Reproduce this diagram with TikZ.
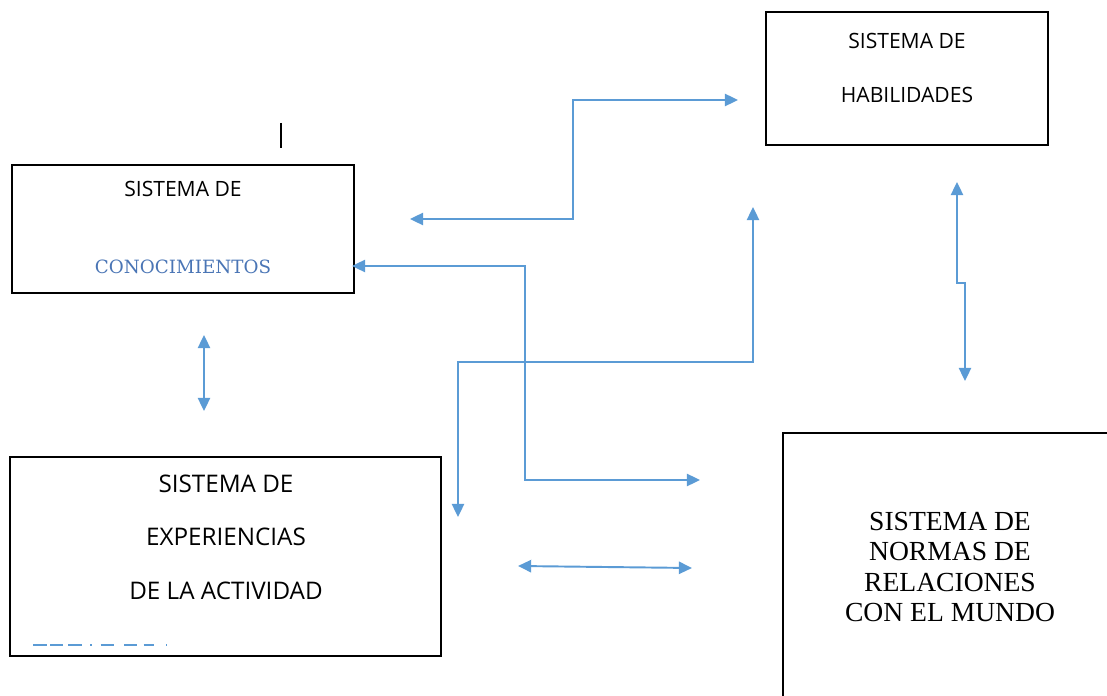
\documentclass[tikz,border=0pt]{standalone}
\usepackage{fontspec}
\setmainfont{Liberation Serif}
\setsansfont{Open Sans}
\newfontfamily\slabfont{DejaVu Serif}
\usetikzlibrary{arrows.meta}
\definecolor{relblue}{HTML}{5B9BD5}
\definecolor{txtblue}{HTML}{4A75B5}
\tikzset{
  box/.style={draw,line width=0.8pt,inner sep=0pt},
  rel/.style={line width=1.1pt,color=relblue,{Triangle[length=7.5pt,width=7pt]}-{Triangle[length=7.5pt,width=7pt]}},
  lbl/.style={font=\sffamily\fontsize{12}{14}\selectfont,inner sep=0pt}
}
\begin{document}
\begin{tikzpicture}[x=0.02cm,y=-0.02cm]
\useasboundingbox (0,0) rectangle (1107,696);

\node[box,minimum width=6.84cm,minimum height=2.56cm] (cono) at (183,229) {}; % conocimientos
\node[box,minimum width=5.64cm,minimum height=2.66cm] (habi) at (907,78.5) {}; % habilidades
\node[box,minimum width=8.62cm,minimum height=3.98cm] (expe) at (225.5,556.5) {}; % experiencias
\draw[line width=0.8pt] (1107,433) -- (783,433) -- (783,696) ; % normas

\node[lbl] (cono1) at (183,189) {SISTEMA DE};
\node[lbl,font=\slabfont\fontsize{10.4}{12}\selectfont,text=txtblue] (cono2) at (183,267) {CONOCIMIENTOS};
\node[lbl] (habi1) at (907,41) {SISTEMA DE};
\node[lbl] (habi2) at (907,95) {HABILIDADES};
\node[lbl,font=\sffamily\fontsize{13.8}{16}\selectfont] (expe1) at (226,484) {SISTEMA DE};
\node[lbl,font=\sffamily\fontsize{13.8}{16}\selectfont] (expe2) at (226,537) {EXPERIENCIAS};
\node[lbl,font=\sffamily\fontsize{13.8}{16}\selectfont] (expe3) at (226,591) {DE LA ACTIVIDAD};
\node[align=center,font=\fontsize{15.7}{17.4}\selectfont,inner sep=0pt] (norm) at (950,567)
  {SISTEMA DE\\NORMAS DE\\RELACIONES\\CON EL MUNDO};

\draw[line width=0.8pt,color=relblue,dash pattern=on 7.8pt off 1.9pt on 7.6pt off 2.9pt on 7.8pt off 4.7pt on 0.6pt off 5.2pt on 7.6pt off 5.7pt on 7.6pt off 3.5pt on 5.9pt off 7.1pt on 0.6pt off 10pt]
  (33,645) -- (168,645) ;
\draw[line width=1pt] (281,123) -- (281,148) ; % cursor

\coordinate (a1s) at (410,219);
\coordinate (a1e) at (738,100);
\coordinate (a2s) at (352,266);
\coordinate (a2e) at (700,480);
\coordinate (a3s) at (753,207);
\coordinate (a3e) at (458,517);
\coordinate (a4s) at (957,182);
\coordinate (a4e) at (965,381);
\coordinate (a5s) at (204,335);
\coordinate (a5e) at (204,411);
\coordinate (a6s) at (518,566);
\coordinate (a6e) at (692,568);

\draw[rel] (a1s) -- (573,219) |- (a1e) ;
\draw[rel] (a2s) -- (525,266) |- (a2e) ;
\draw[rel] (a3s) |- (458,362) -- (a3e) ;
\draw[rel] (a4s) -- (957,283) -- (965,283) -- (a4e) ;
\draw[rel] (a5s) -- (a5e) ;
\draw[rel] (a6s) -- (a6e) ;
\end{tikzpicture}
\end{document}
